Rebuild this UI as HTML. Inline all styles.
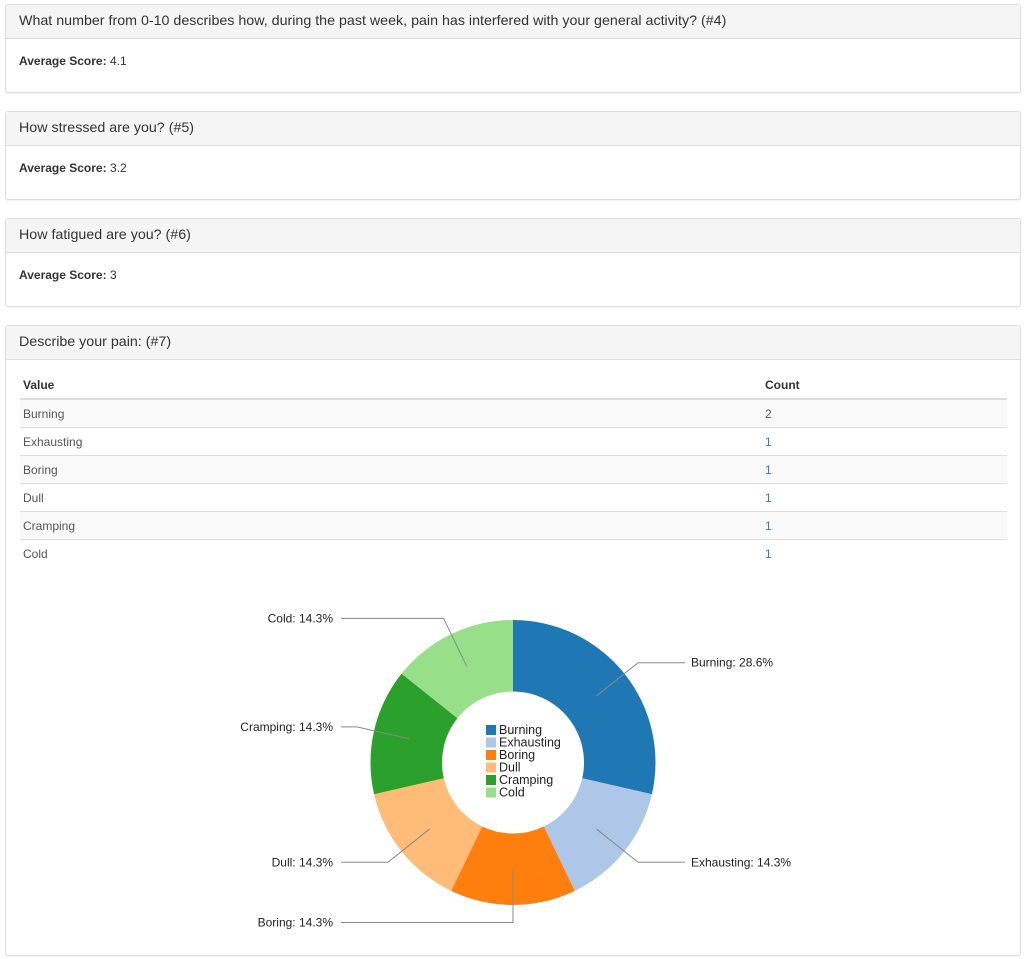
<!DOCTYPE html>
<html><head><meta charset="utf-8"><style>
body{margin:0;width:1024px;height:959px;background:#fff;font-family:"Liberation Sans",Arial,sans-serif;color:#333;position:relative;overflow:hidden}
.panel{position:absolute;left:5px;width:1014px;border:1px solid #ddd;border-radius:3px;box-shadow:0 1px 1px rgba(0,0,0,.05);background:#fff}
.ph{height:33px;background:#f5f5f5;border-bottom:1px solid #ddd;font-size:14.25px;line-height:33px;padding-left:13px}
.pb{font-size:12px;padding:15px 13px}
table{position:absolute;left:14px;top:45px;width:987px;border-collapse:collapse;font-size:12px}
th{text-align:left;height:27px;border-bottom:2px solid #ddd;padding:0 3px;font-weight:bold}
td{height:27px;border-top:1px solid #ddd;padding:0 3px;color:#555}
tr.s td{background:#f9f9f9}
td.c{color:#337ab7}
</style></head><body>
<div class="panel" style="top:4px;height:87px"><div class="ph">What number from 0-10 describes how, during the past week, pain has interfered with your general activity? (#4)</div><div class="pb"><b>Average Score:</b> 4.1</div></div>
<div class="panel" style="top:111px;height:87px"><div class="ph">How stressed are you? (#5)</div><div class="pb"><b>Average Score:</b> 3.2</div></div>
<div class="panel" style="top:218px;height:87px"><div class="ph">How fatigued are you? (#6)</div><div class="pb"><b>Average Score:</b> 3</div></div>
<div class="panel" style="top:325px;height:629px"><div class="ph">Describe your pain: (#7)</div>
<table><tr><th>Value</th><th style="width:239px">Count</th></tr>
<tr class="s"><td>Burning</td><td>2</td></tr>
<tr><td>Exhausting</td><td class="c">1</td></tr>
<tr class="s"><td>Boring</td><td class="c">1</td></tr>
<tr><td>Dull</td><td class="c">1</td></tr>
<tr class="s"><td>Cramping</td><td class="c">1</td></tr>
<tr><td>Cold</td><td class="c">1</td></tr></table>
</div>
<svg id="chart" style="position:absolute;left:0;top:0" width="1024" height="959"></svg>
<script>
const categories=["Burning","Exhausting","Boring","Dull","Cramping","Cold"];
const counts=[2,1,1,1,1,1];
const colors=["#1f77b4","#aec7e8","#ff7f0e","#ffbb78","#2ca02c","#98df8a"];
const svg=document.getElementById('chart');const NS="http://www.w3.org/2000/svg";
const cx=513,cy=762.5,R=142.5,r=71,RL=160,XE=172;
const total=counts.reduce((a,b)=>a+b,0);
function pt(a,rad){return [cx+rad*Math.sin(a),cy-rad*Math.cos(a)];}
function mk(t,at){const e=document.createElementNS(NS,t);for(const k in at)e.setAttribute(k,at[k]);svg.appendChild(e);return e;}
let a0=0;
categories.forEach((c,i)=>{
 const a1=a0+counts[i]/total*2*Math.PI;const lg=(a1-a0)>Math.PI?1:0;
 const p1=pt(a0,R),p2=pt(a1,R),p3=pt(a1,r),p4=pt(a0,r);
 const s=mk('path',{d:`M${p1}A${R},${R} 0 ${lg} 1 ${p2}L${p3}A${r},${r} 0 ${lg} 0 ${p4}Z`,fill:colors[i]});
 
 
 const m=(a0+a1)/2;const c1=pt(m,(R+r)/2),c2=pt(m,RL);const right=m<Math.PI-1e-6;
 const ex=right?cx+XE:cx-XE;
 const l=mk('polyline',{points:`${c1} ${c2} ${ex},${c2[1]}`,fill:'none',stroke:'#888','stroke-width':1});
 
 
 const t=mk('text',{x:right?ex+6:ex-8,y:c2[1]+4,'font-size':12,'text-anchor':right?'start':'end',fill:'#222'});
 t.textContent=c+': '+(counts[i]/total*100).toFixed(1)+'%';
 
 
 const sq=mk('rect',{x:486,y:725+i*12.5,width:10,height:10,fill:colors[i]});
 
 
 const lt=mk('text',{x:499,y:734+i*12.5,'font-size':12.5,fill:'#222'});
 lt.textContent=c;
 
 
 a0=a1;
});
</script>
</body></html>
